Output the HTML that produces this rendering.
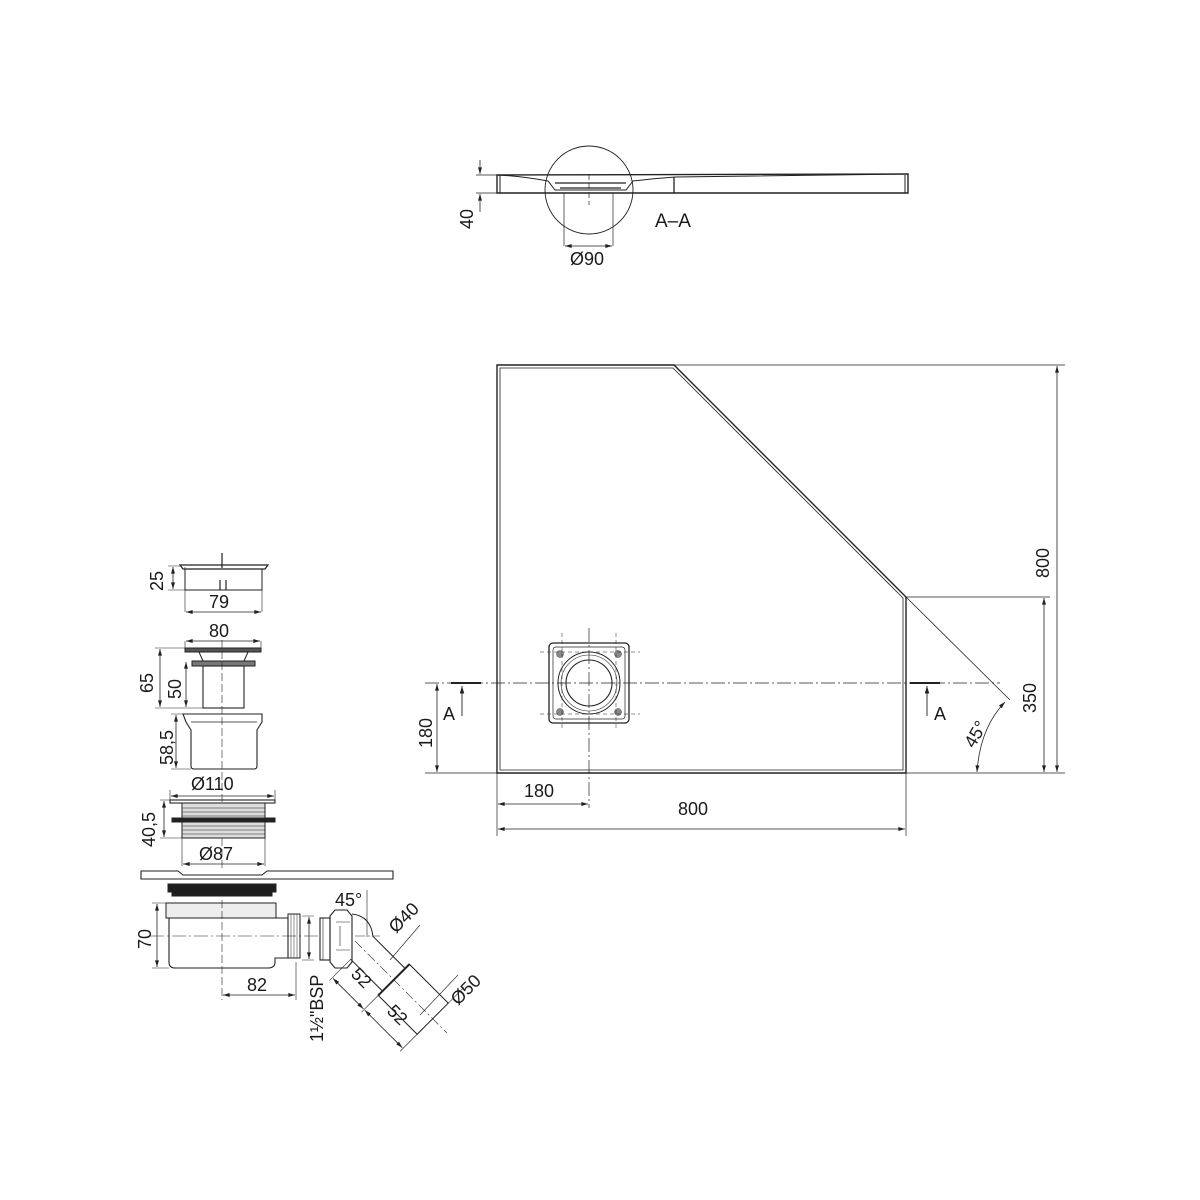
<!DOCTYPE html>
<html><head><meta charset="utf-8"><style>
html,body{margin:0;padding:0;background:#fff}
svg{display:block}
text{font-family:"Liberation Sans",sans-serif;font-size:18px;fill:#1a1a1a}
</style></head><body>
<svg width="1200" height="1200" viewBox="0 0 1200 1200" xmlns="http://www.w3.org/2000/svg">
<defs>
<marker id="ar" viewBox="0 0 10 6" refX="10" refY="3" markerWidth="9" markerHeight="5" orient="auto-start-reverse"><path d="M0,0 L10,3 L0,6 z" fill="#222"/></marker>
</defs>
<g fill="none" stroke="#222" stroke-width="1">

<path d="M497,175 L908,174 L908,193 L497,193 Z" stroke-width="1.4"/>
<path d="M500,175 L500,193 M905,175 L905,193"/>
<path d="M497,175 Q520,176 548,181 L555,190 L626,190 L633,181 Q660,178 676,177 L908,174" />
<path d="M555,183 L626,183 M560,188 L621,188 M674,177 L674,193" stroke-width="1.3"/>
<circle cx="589" cy="190" r="44" stroke-width="0.9"/>
<path d="M564,193 L564,246 M613,193 L613,246" stroke-width="0.7"/>
<path d="M589,174 L589,205" stroke-dasharray="6,3" stroke-width="0.7"/>
<line x1="565" y1="246" x2="612" y2="246" marker-start="url(#ar)" marker-end="url(#ar)" stroke-width="0.8"/>
<path d="M476,175 L497,175 M476,193 L497,193" stroke-width="0.7"/>
<line x1="480" y1="160" x2="480" y2="174" marker-end="url(#ar)" stroke-width="0.8"/>
<line x1="480" y1="212" x2="480" y2="194" marker-end="url(#ar)" stroke-width="0.8"/>

<path d="M497,365 L674,365 L906,597 L906,773 L497,773 Z" stroke-width="1.4"/>
<path d="M500,368 L673,368 L903,598 L903,770 L500,770 Z" stroke-width="0.8"/>
<path d="M674,365 L1065,365 M906,597 L1050,597 M906,773 L1065,773" stroke-width="0.7"/>
<line x1="1057" y1="366" x2="1057" y2="772" marker-start="url(#ar)" marker-end="url(#ar)" stroke-width="0.8"/>
<line x1="1044" y1="598" x2="1044" y2="772" marker-start="url(#ar)" marker-end="url(#ar)" stroke-width="0.8"/>
<path d="M906,597 L1010,700" stroke-width="0.8"/>
<path d="M1005,702 Q980,728 977,772" stroke-width="0.8" marker-start="url(#ar)" marker-end="url(#ar)"/>

<path d="M425,683 L1000,683" stroke-dasharray="14,3,2,3" stroke-width="0.7"/>
<path d="M589,628 L589,808" stroke-dasharray="14,3,2,3" stroke-width="0.7"/>
<rect x="549" y="643" width="80" height="80" rx="4" stroke-width="1.3"/>
<rect x="553" y="647" width="72" height="72" rx="3" stroke-width="0.7"/>
<circle cx="589" cy="683" r="31" stroke-width="1"/>
<circle cx="589" cy="683" r="28" stroke-width="0.6"/>
<circle cx="589" cy="683" r="23" stroke-width="1.1"/>
<g fill="#888" stroke="#444" stroke-width="0.5">
<circle cx="560" cy="654" r="3.5"/><circle cx="618" cy="654" r="3.5"/><circle cx="560" cy="712" r="3.5"/><circle cx="618" cy="712" r="3.5"/></g>
<path d="M562,633 L562,728 M616,633 L616,728 M540,652 L640,652 M540,714 L640,714" stroke-dasharray="4,3" stroke-width="0.5"/>

<path d="M451,683 L481,683 M910,683 L940,683" stroke-width="2"/>
<line x1="462" y1="716" x2="462" y2="686" marker-end="url(#ar)" stroke-width="0.9"/>
<line x1="927" y1="716" x2="927" y2="686" marker-end="url(#ar)" stroke-width="0.9"/>

<path d="M425,773 L497,773 M497,773 L497,836 M906,773 L906,836" stroke-width="0.7"/>
<line x1="437" y1="684" x2="437" y2="772" marker-start="url(#ar)" marker-end="url(#ar)" stroke-width="0.8"/>
<line x1="498" y1="804" x2="588" y2="804" marker-start="url(#ar)" marker-end="url(#ar)" stroke-width="0.8"/>
<line x1="498" y1="829" x2="905" y2="829" marker-start="url(#ar)" marker-end="url(#ar)" stroke-width="0.8"/>

<path d="M180,565 L268,565 L265,569 L183,569 Z" stroke-width="1.2"/>
<path d="M185,569 L185,590 L262,590 L262,569" stroke-width="1"/>
<path d="M222,553 L222,568 M220,580 L220,590 M226,580 L226,590" stroke-width="1.2"/>
<path d="M185,567 L185,612 M262,590 L262,612 M168,590 L185,590 M168,566 L180,566" stroke-width="0.6"/>
<line x1="173" y1="567" x2="173" y2="589" marker-start="url(#ar)" marker-end="url(#ar)" stroke-width="0.8"/>
<line x1="186" y1="612" x2="261" y2="612" marker-start="url(#ar)" marker-end="url(#ar)" stroke-width="0.8"/>
<rect x="185" y="648" width="76" height="4" fill="#555" stroke-width="1"/>
<path d="M199,652 L203,661 M248,652 L244,661" />
<rect x="192" y="661" width="63" height="5" fill="#777" stroke-width="1"/>
<rect x="203" y="666" width="41" height="42" stroke-width="1.1"/>
<path d="M185,641 L185,648 M261,641 L261,648 M155,648 L185,648 M180,708 L203,708 M155,708 L180,708" stroke-width="0.6"/>
<line x1="186" y1="641" x2="260" y2="641" marker-start="url(#ar)" marker-end="url(#ar)" stroke-width="0.8"/>
<line x1="160" y1="649" x2="160" y2="707" marker-start="url(#ar)" marker-end="url(#ar)" stroke-width="0.8"/>
<line x1="186" y1="662" x2="186" y2="707" marker-start="url(#ar)" marker-end="url(#ar)" stroke-width="0.8"/>
<path d="M183,714 L262,714 L262,722 L257,730 L257,766 Q257,769 254,769 L194,769 Q191,769 191,766 L191,730 L186,722 Z" stroke-width="1.1"/>
<path d="M191,722 L257,722" stroke-width="0.7"/>
<path d="M222,640 L222,870" stroke-dasharray="8,3" stroke-width="0.6"/>
<path d="M171,714 L183,714 M171,769 L191,769" stroke-width="0.6"/>
<line x1="176" y1="715" x2="176" y2="768" marker-start="url(#ar)" marker-end="url(#ar)" stroke-width="0.8"/>
<rect x="170" y="800" width="105" height="3" stroke-width="1.1"/>
<rect x="182" y="803" width="83" height="35" fill="#ddd" stroke-width="1"/>
<path d="M182,808 L265,808 M182,812 L265,812 M182,816 L265,816 M182,826 L265,826 M182,830 L265,830 M182,834 L265,834" stroke-width="0.5"/>
<rect x="172" y="818" width="103" height="4" fill="#222"/>
<path d="M170,790 L170,800 M275,790 L275,800 M160,800 L170,800 M160,838 L182,838 M182,838 L182,866 M265,838 L265,866" stroke-width="0.6"/>
<line x1="171" y1="796" x2="274" y2="796" marker-start="url(#ar)" marker-end="url(#ar)" stroke-width="0.8"/>
<line x1="164" y1="801" x2="164" y2="837" marker-start="url(#ar)" marker-end="url(#ar)" stroke-width="0.8"/>
<line x1="183" y1="864" x2="264" y2="864" marker-start="url(#ar)" marker-end="url(#ar)" stroke-width="0.8"/>
<path d="M141,871 L178,871 L183,875 L262,875 L267,871 L393,871 L393,879 L141,879 Z" stroke-width="1.1"/>
<path d="M168,884 L276,884 L276,892 L272,892 L272,896 L172,896 L172,892 L168,892 Z" fill="#1e1e1e"/>
<rect x="166" y="903" width="110" height="15" fill="#eee" stroke-width="1"/>
<path d="M169,918 L169,962 Q169,968 175,968 L268,968 Q275,968 275,962 L275,958 L288,958 L288,918 L275,918" stroke-width="1.1"/>
<path d="M169,918 L275,918" stroke-width="1.1"/>
<rect x="288" y="914" width="12" height="44" stroke-width="1"/>
<path d="M291,914 L291,958 M294,914 L294,958 M297,914 L297,958" stroke-width="0.5"/>
<path d="M150,936 L320,936" stroke-dasharray="14,3,2,3" stroke-width="0.6"/>
<path d="M222,900 L222,1000" stroke-dasharray="8,3" stroke-width="0.6"/>
<path d="M152,903 L166,903 M152,968 L169,968 M296,962 L296,1000 M302,916 L314,916 M302,960 L314,960" stroke-width="0.6"/>
<line x1="157" y1="904" x2="157" y2="967" marker-start="url(#ar)" marker-end="url(#ar)" stroke-width="0.8"/>
<line x1="223" y1="995" x2="295" y2="995" marker-start="url(#ar)" marker-end="url(#ar)" stroke-width="0.8"/>
<line x1="309" y1="917" x2="309" y2="959" marker-start="url(#ar)" marker-end="url(#ar)" stroke-width="0.8"/>
<rect x="320" y="918" width="10" height="42" stroke-width="1.1"/>
<path d="M323,918 L323,960" stroke-width="0.6"/>
<path d="M330,916 L335,910 L347,910 L352,916 L352,962 L347,968 L335,968 L330,962 Z" stroke-width="1.1"/>
<path d="M336,922 L350,922 M336,950 L350,950 M340,926 L340,946" stroke-width="0.6"/>
<path d="M352,914 Q371,916 373,937" stroke-width="1"/>
<path d="M355,936 L380,936" stroke-dasharray="10,3,2,3" stroke-width="0.6"/>
<path d="M367,890 L367,937" stroke-width="0.6"/>
<g transform="translate(362,948) rotate(45)">
<path d="M0,-16 L45,-16 M0,16 L45,16" stroke-width="1"/>
<rect x="45" y="-22" width="55" height="44" stroke-width="1"/>
<path d="M45,-22 L45,22" stroke-width="2"/>
<path d="M-10,0 L120,0" stroke-dasharray="10,3,2,3" stroke-width="0.6"/>
<path d="M0,16 L0,46 M45,22 L45,46 M100,22 L100,46 M100,-22 L100,-44" stroke-width="0.6"/>
<line x1="1" y1="42" x2="44" y2="42" marker-start="url(#ar)" marker-end="url(#ar)" stroke-width="0.8"/>
<line x1="46" y1="42" x2="99" y2="42" marker-start="url(#ar)" marker-end="url(#ar)" stroke-width="0.8"/>
</g>
<path d="M390,960 L420,925 M420,1015 L458,975" stroke-width="0.6"/>
</g>

<text x="570" y="265">Ø90</text>
<text x="655" y="227" style="font-size:19px">A–A</text>
<text transform="translate(473,229) rotate(-90)">40</text>
<text transform="translate(1049,578) rotate(-90)">800</text>
<text transform="translate(1036,713) rotate(-90)">350</text>
<text transform="translate(974,749) rotate(-60)">45°</text>
<text x="443" y="720">A</text>
<text x="934" y="720">A</text>
<text transform="translate(432,748) rotate(-90)">180</text>
<text x="524" y="797">180</text>
<text x="678" y="815">800</text>
<text transform="translate(163,591) rotate(-90)">25</text>
<text x="209" y="608">79</text>
<text x="209" y="637">80</text>
<text transform="translate(153,693) rotate(-90)">65</text>
<text transform="translate(181,699) rotate(-90)">50</text>
<text transform="translate(173,765) rotate(-90)">58,5</text>
<text x="191" y="790">Ø110</text>
<text transform="translate(155,847) rotate(-90)">40,5</text>
<text x="199" y="860">Ø87</text>
<text transform="translate(151,949) rotate(-90)">70</text>
<text x="247" y="991">82</text>
<text transform="translate(323,1042) rotate(-90)">1½"BSP</text>
<text x="335" y="906">45°</text>
<text transform="translate(396,934) rotate(-45)">Ø40</text>
<text transform="translate(458,1006) rotate(-45)">Ø50</text>
<text transform="translate(350,975) rotate(45)">52</text>
<text transform="translate(386,1012) rotate(45)">52</text>
</svg>
</body></html>
